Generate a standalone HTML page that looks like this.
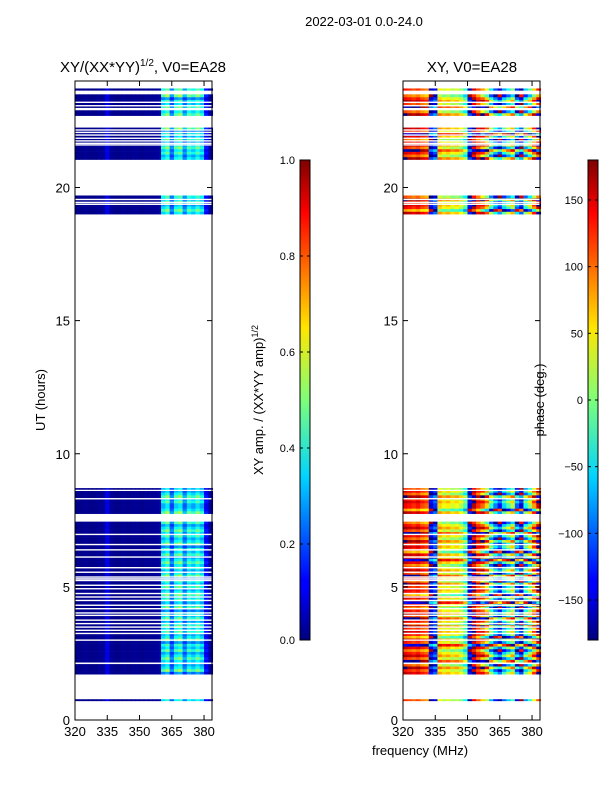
<!DOCTYPE html>
<html><head><meta charset="utf-8">
<style>
body{margin:0;background:#fff;}
svg text{font-family:"Liberation Sans",sans-serif;fill:#000;}
</style></head>
<body>
<svg id="fig" width="600" height="800" viewBox="0 0 600 800" xmlns="http://www.w3.org/2000/svg">
<defs>
<linearGradient id="jet" x1="0" y1="1" x2="0" y2="0">
<stop offset="0" stop-color="#00007f"/><stop offset="0.11" stop-color="#0000ff"/>
<stop offset="0.125" stop-color="#0000ff"/><stop offset="0.34" stop-color="#00d4ff"/>
<stop offset="0.5" stop-color="#7dff7a"/><stop offset="0.65" stop-color="#ffe600"/>
<stop offset="0.89" stop-color="#ff0000"/><stop offset="1" stop-color="#7f0000"/>
</linearGradient>
</defs>
<text x="364" y="26" font-size="13" text-anchor="middle">2022-03-01 0.0-24.0</text>
<g id="left"></g>
<g id="right"></g>
<g id="cb"></g>
<text x="143" y="72" font-size="15" text-anchor="middle">XY/(XX*YY)<tspan font-size="10" dy="-6">1/2</tspan><tspan dy="6">, V0=EA28</tspan></text>
<text x="472" y="72" font-size="15" text-anchor="middle">XY, V0=EA28</text>
<text transform="translate(45,400) rotate(-90)" font-size="13" text-anchor="middle">UT (hours)</text>
<text x="420" y="755" font-size="13" text-anchor="middle">frequency (MHz)</text>
<text transform="translate(263,400) rotate(-90)" font-size="13" text-anchor="middle">XY amp. / (XX*YY amp)<tspan font-size="9" dy="-5">1/2</tspan></text>
<text transform="translate(544,400) rotate(-90)" font-size="13" text-anchor="middle">phase (deg.)</text>
</svg>
<script>
const freqs = [320,322,324,326,328,330,332,334,336,338,340,342,344,346,348,350,352,354,356,358,360,362,364,366,368,370,372,374,376,378,380,382];
const ampProfile = [0.01,0.01,0.02,0.01,0.01,0.02,0.02,0.1,0.02,0.01,0.01,0.02,0.01,0.02,0.02,0.01,0.02,0.02,0.02,0.03,0.35,0.42,0.22,0.38,0.42,0.25,0.38,0.33,0.4,0.33,0.12,0.04];
const phaseProfile = [140,130,120,130,110,100,-150,-120,60,40,50,30,40,20,-20,-150,160,120,100,60,-30,-90,-130,-60,-20,20,-100,-150,-40,10,80,150];
const ampRowMul = [1,0.8,1.2,0.9,1.1,0.7,1.3,1.0,0.85,1.15,0.95,1.25];
const phaseRowOff = [0,20,-10,40,-30,10,60,-20,30,0,-40,15,90,-10,25,-60];
const segments = [[0.72,0.78],[1.72,2.1],[2.17,7.45],[7.75,8.6],[8.66,8.71],[19.0,19.7],[21.05,22.25],[22.7,22.9],[23.0,23.5],[23.65,23.72]];
const gaps = [19.37,19.44,19.55,21.6,21.66,21.75,21.85,21.97,22.07,22.16,23.07,23.2,8.31,6.97,6.59,6.39,6.12,5.72,5.55,5.37,5.3,5.24,5.06,4.93,4.75,4.62,4.49,4.31,4.18,4.02,3.93,3.75,3.62,3.49,3.37,3.25,3.0];
const hourTicks = [0,5,10,15,20];
const freqTicks = [320,335,350,365,380];
const ampTicks = [0.0,0.2,0.4,0.6,0.8,1.0];
const phaseTicks = [-150,-100,-50,0,50,100,150];

const NS="http://www.w3.org/2000/svg";
const Y0=720,Y1=81,F0=320,F1=383.7;
const yS=h=>Y0-(h/24)*(Y0-Y1);
function jet(v){v=Math.max(0,Math.min(1,v));
 const c=x=>Math.round(255*Math.max(0,Math.min(1,x)));
 return `rgb(${c(1.5-Math.abs(4*v-3))},${c(1.5-Math.abs(4*v-2))},${c(1.5-Math.abs(4*v-1))})`;}
function mk(p,tag,at){const e=document.createElementNS(NS,tag);for(const k in at)e.setAttribute(k,at[k]);p.appendChild(e);return e;}

function panel(g,x0,x1,kind){
 const xS=f=>x0+(f-F0)/(F1-F0)*(x1-x0);
 segments.forEach(s=>{
  for(let h=s[0];h<s[1]-1e-6;h+=0.1){
   const he=Math.min(h+0.1,s[1]);const r=Math.round(h*10);
   freqs.forEach((f,c)=>{
    let col;
    if(kind==='amp'){col=jet(ampProfile[c]*(c>=20?ampRowMul[r%ampRowMul.length]:1));}
    else{let p=phaseProfile[c]+phaseRowOff[r%phaseRowOff.length]*(c>=18?2:1);
     p=((p+180)%360+360)%360-180;col=jet((p+180)/360);}
    const e=mk(g,'rect',{x:xS(f).toFixed(2),y:yS(he).toFixed(2),width:(xS(f+2)-xS(f)+0.4).toFixed(2),height:(yS(h)-yS(he)+0.3).toFixed(2),fill:col});
    
    
   });
  }
 });
 gaps.forEach(h=>{
  const e=mk(g,'rect',{x:x0,y:yS(h)-0.7,width:x1-x0,height:1.4,fill:'#fff'});
  
  
 });
 const fr=mk(g,'rect',{x:x0,y:Y1,width:x1-x0,height:Y0-Y1,fill:'none',stroke:'#000','stroke-width':1});
 
 
 hourTicks.forEach(h=>{const y=yS(h);
  mk(g,'line',{x1:x0,x2:x0+5,y1:y,y2:y,stroke:'#000'});mk(g,'line',{x1:x1-5,x2:x1,y1:y,y2:y,stroke:'#000'});
  const t=mk(g,'text',{x:x0-5,y:y+5,'font-size':13,'text-anchor':'end'});t.textContent=h;
  
  
 });
 freqTicks.forEach(f=>{const x=xS(f);
  mk(g,'line',{x1:x,x2:x,y1:Y0,y2:Y0-5,stroke:'#000'});mk(g,'line',{x1:x,x2:x,y1:Y1,y2:Y1+5,stroke:'#000'});
  const t=mk(g,'text',{x:x,y:Y0+16,'font-size':13,'text-anchor':'middle'});t.textContent=f;
  
  
 });
}
panel(document.getElementById('left'),75,212,'amp');
panel(document.getElementById('right'),403,540,'phase');

function cbar(g,x,lo,hi,ticks,fmt,name){
 const e=mk(g,'rect',{x:x,y:160,width:10,height:480,fill:'url(#jet)',stroke:'#000','stroke-width':1});
 
 
 ticks.forEach(v=>{const y=640-(v-lo)/(hi-lo)*480;
  mk(g,'line',{x1:x,x2:x+3,y1:y,y2:y,stroke:'#000'});mk(g,'line',{x1:x+7,x2:x+10,y1:y,y2:y,stroke:'#000'});
  const t=mk(g,'text',{x:x-5,y:y+4,'font-size':11,'text-anchor':'end'});t.textContent=fmt(v);
  
  
 });
}
const cb=document.getElementById('cb');
cbar(cb,300,0,1,ampTicks,v=>v.toFixed(1),'amp-colorbar');
cbar(cb,588,-180,180,phaseTicks,v=>v<0?'\u2212'+(-v):String(v),'phase-colorbar');
</script>
</body></html>
